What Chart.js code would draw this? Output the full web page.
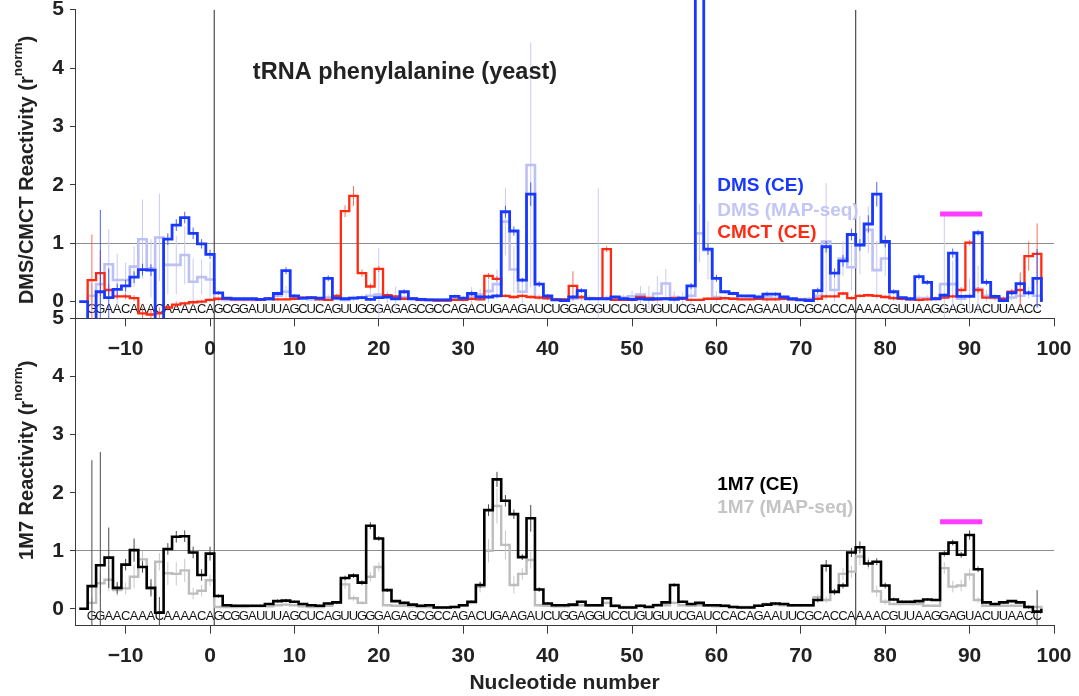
<!DOCTYPE html>
<html>
<head>
<meta charset="utf-8">
<script src="https://cdn.jsdelivr.net/npm/chart.js@4.4.1/dist/chart.umd.min.js"></script>
<style>
  html, body { margin: 0; padding: 0; background: #ffffff; }
  #wrap { position: relative; width: 1079px; height: 696px; overflow: hidden; background: #ffffff; }
  .box { position: absolute; left: 0; }
</style>
</head>
<body>
<div id="wrap">
  <div class="box" style="top:300px"><canvas id="bottomChart" width="1079" height="396"></canvas></div>
  <div class="box" style="top:0px"><canvas id="topChart" width="1079" height="370"></canvas></div>
</div>
<script>
// ---------------- DATA ----------------
// Nucleotide numbers run from -15 to 98 (index 0 -> nucleotide -15)
const nucleotideStart = -15;

// Sequence labels (first letter is nucleotide -14)
const seqStart = -14;
const flank5 = "GGAACAAACAAAACA";
const trnaPhe = "GCGGAUUUAGCUCAGUUGGGAGAGCGCCAGACUGAAGAUCUGGAGGUCCUGUGUUCGAUCCACAGAAUUCGCACCA";
const flank3 = "AAACGUUAAGGAGUACUUAACC";

// Domain boundaries (vertical lines) and highlighted segment
const boundaryLines = [0.5, 76.5];
const highlightRange = [86.5, 91.5];
const highlightLevel = 1.5;

// Tick labels
const xTicks = [-10, 0, 10, 20, 30, 40, 50, 60, 70, 80, 90, 100];
const yTicks = [0, 1, 2, 3, 4, 5];

// Series labels
const labelDmsCE = "DMS (CE)";
const labelDmsMap = "DMS (MAP-seq)";
const labelCmct = "CMCT (CE)";
const label1m7CE = "1M7 (CE)";
const label1m7Map = "1M7 (MAP-seq)";
const chartTitle = "tRNA phenylalanine (yeast)";
const xTitle = "Nucleotide number";
const yTitleTop = "DMS/CMCT Reactivity (r";
const yTitleBottom = "1M7 Reactivity (r";

// DMS (CE) reactivity, nucleotides -15..98
const dmsCE = [
  0, -0.6, 0.17, 0.07, 0.21, 0.27, 0.42, 0.55, 0.54, -0.6,      // -15..-6
  1.07, 1.31, 1.44, 1.17, 0.99, 0.81, 0.15, 0.06, 0.05, 0.05,   // -5..4
  0.05, 0.04, 0.05, 0.14, 0.53, 0.10, 0.06, 0.07, 0.06, 0.40,   // 5..14
  0.06, 0.05, 0.06, 0.07, 0.04, 0.07, 0.08, 0.05, 0.17, 0.05,   // 15..24
  0.04, 0.03, 0.03, 0.03, 0.09, 0.06, 0.14, 0.08, 0.08, 0.10,   // 25..34
  1.54, 1.21, 0.37, 1.84, 0.30, 0.10, 0.03, 0.02, 0.08, 0.19,   // 35..44
  0.05, 0.05, 0.05, 0.08, 0.05, 0.04, 0.05, 0.04, 0.05, 0.05,   // 45..54
  0.04, 0.06, 0.27, 6.5, 0.90, 0.40, 0.17, 0.14, 0.10, 0.10,    // 55..64
  0.08, 0.13, 0.13, 0.08, 0.05, 0.03, 0.02, 0.19, 0.94, 0.49,   // 65..74
  0.70, 1.15, 0.97, 1.33, 1.84, 1.03, 0.17, 0.07, 0.05, 0.43,   // 75..84
  0.33, 0.05, 0.11, 0.83, 0.09, 0.09, 1.18, 0.33, 0.09, 0.02,   // 85..94
  0.15, 0.31, 0.15, 0.40                                        // 95..98
];
const dmsCEErr = [
  0, 0.3, 1.4, 0.5, 0.1, 0.1, 0.1, 0.1, 0.1, 0,
  0.1, 0.1, 0.1, 0.1, 0.08, 0.08, 0.03, 0.02, 0.02, 0.02,
  0.02, 0.02, 0.02, 0.03, 0.06, 0.03, 0.02, 0.02, 0.02, 0.05,
  0.02, 0.02, 0.02, 0.02, 0.02, 0.02, 0.02, 0.02, 0.04, 0.02,
  0.02, 0.02, 0.02, 0.02, 0.03, 0.02, 0.04, 0.03, 0.03, 0.03,
  0.10, 0.08, 0.04, 0.20, 0.05, 0.03, 0.02, 0.02, 0.03, 0.04,
  0.02, 0.02, 0.02, 0.02, 0.02, 0.02, 0.02, 0.02, 0.02, 0.02,
  0.02, 0.02, 0.05, 0, 0.10, 0.06, 0.03, 0.03, 0.02, 0.02,
  0.02, 0.03, 0.03, 0.02, 0.02, 0.02, 0.02, 0.05, 0.10, 0.08,
  0.10, 0.10, 0.10, 0.15, 0.21, 0.10, 0.04, 0.02, 0.02, 0.05,
  0.04, 0.02, 0.03, 0.08, 0.03, 0.03, 0.05, 0.05, 0.03, 0.02,
  0.04, 0.05, 0.04, 0.50
];

// DMS (MAP-seq) reactivity
const dmsMap = [
  null, 0.10, 0.30, 0.64, 0.37, 0.37, 0.60, 1.07, 0.57, 1.10,
  0.63, 0.63, 0.80, 0.34, 0.42, 0.38, 0.04, 0.03, 0.03, 0.03,
  0.03, 0.04, 0.04, 0.10, 0.17, 0.06, 0.05, 0.04, 0.04, 0.07,
  0.05, 0.03, 0.06, 0.07, 0.10, 0.12, 0.08, 0.06, 0.07, 0.05,
  0.03, 0.03, 0.03, 0.03, 0.04, 0.05, 0.10, 0.12, 0.18, 0.30,
  1.37, 0.55, 0.17, 2.34, 0.08, 0.05, 0.04, 0.04, 0.05, 0.06,
  0.06, 0.05, 0.06, 0.05, 0.07, 0.09, 0.12, 0.07, 0.14, 0.31,
  0.08, 0.06, 0.10, 1.17, 0.88, 0.08, 0.05, 0.05, 0.05, 0.06,
  0.07, 0.08, 0.06, 0.05, 0.04, 0.04, 0.05, 0.10, 1.03, 0.20,
  0.74, 0.59, 0.97, 1.23, 0.54, 0.74, 0.06, 0.05, 0.04, 0.06,
  0.06, 0.05, 0.30, 0.30, 0.05, 0.10, 0.22, 0.10, 0.06, 0.05,
  0.07, 0.10, 0.15, 0.10
];
const dmsMapErr = [
  null, 0.2, 0.4, 0.6, 0.45, 0.3, 0.35, 0.68, 0.5, 0.75,
  0.5, 0.5, 0.5, 0.4, 0.3, 0.3, 0.05, 0.03, 0.03, 0.03,
  0.03, 0.03, 0.03, 0.05, 0.10, 0.05, 0.03, 0.03, 0.03, 0.05,
  0.03, 0.03, 0.05, 0.05, 0.10, 0.80, 0.10, 0.20, 0.05, 0.03,
  0.03, 0.03, 0.03, 0.03, 0.03, 0.05, 0.15, 0.10, 0.20, 0.25,
  0.58, 0.40, 0.20, 2.10, 0.05, 0.03, 0.03, 0.03, 0.03, 0.05,
  0.05, 1.90, 0.05, 0.05, 0.05, 0.10, 0.15, 0.20, 0.30, 0.25,
  0.10, 0.10, 0.20, 0.50, 0.50, 0.10, 0.05, 0.03, 0.03, 0.05,
  0.05, 0.10, 0.05, 0.05, 0.03, 0.03, 0.03, 0.10, 1.00, 0.20,
  0.30, 0.40, 0.50, 0.40, 0.50, 0.30, 0.05, 0.03, 0.03, 0.05,
  0.05, 0.05, 1.20, 0.40, 0.10, 0.30, 0.40, 0.10, 0.05, 0.05,
  0.05, 0.10, 0.10, 0.20
];

// CMCT (CE) reactivity
const cmctCE = [
  null, 0.37, 0.49, 0.20, 0.09, 0.09, 0.06, -0.20, -0.22, -0.20,
  -0.10, -0.05, -0.03, -0.01, 0.00, 0.03, 0.05, 0.05, 0.04, 0.04,
  0.04, 0.03, 0.05, 0.04, 0.04, 0.05, 0.07, 0.07, 0.04, 0.03,
  0.10, 1.55, 1.81, 0.49, 0.26, 0.56, 0.11, 0.09, 0.05, 0.05,
  0.03, 0.03, 0.02, 0.02, 0.03, 0.03, 0.05, 0.04, 0.44, 0.39,
  0.10, 0.08, 0.10, 0.08, 0.07, 0.06, 0.04, 0.04, 0.27, 0.08,
  0.05, 0.05, 0.90, 0.03, 0.03, 0.03, 0.08, 0.06, 0.04, 0.05,
  0.06, 0.05, 0.03, 0.03, 0.05, 0.05, 0.06, 0.05, 0.04, 0.04,
  0.05, 0.04, 0.04, 0.05, 0.04, 0.03, 0.03, 0.05, 0.09, 0.09,
  0.14, 0.06, 0.10, 0.11, 0.10, 0.08, 0.06, 0.05, 0.04, 0.03,
  0.04, 0.05, 0.07, 0.09, 0.20, 1.01, 0.20, 0.07, 0.07, 0.05,
  0.17, 0.20, 0.78, 0.82
];
const cmctErr = [
  null, 0.78, 0.39, 0.10, 0.05, 0.05, 0.05, 0.10, 0.10, 0.10,
  0.05, 0.05, 0.03, 0.03, 0.03, 0.03, 0.02, 0.02, 0.02, 0.02,
  0.02, 0.02, 0.02, 0.02, 0.02, 0.02, 0.02, 0.02, 0.02, 0.02,
  0.03, 0.10, 0.17, 0.06, 0.05, 0.05, 0.03, 0.02, 0.02, 0.02,
  0.02, 0.02, 0.02, 0.02, 0.02, 0.02, 0.02, 0.02, 0.05, 0.05,
  0.03, 0.03, 0.03, 0.03, 0.03, 0.03, 0.02, 0.02, 0.25, 0.03,
  0.02, 0.02, 0.05, 0.02, 0.02, 0.02, 0.02, 0.02, 0.02, 0.02,
  0.02, 0.02, 0.02, 0.02, 0.02, 0.02, 0.02, 0.02, 0.02, 0.02,
  0.02, 0.02, 0.02, 0.02, 0.02, 0.02, 0.02, 0.02, 0.03, 0.03,
  0.03, 0.03, 0.03, 0.03, 0.03, 0.03, 0.03, 0.03, 0.03, 0.03,
  0.02, 0.02, 0.02, 0.03, 0.05, 0.05, 0.05, 0.02, 0.02, 0.02,
  0.05, 0.30, 0.25, 0.52
];

// 1M7 (CE) reactivity
const m7CE = [
  0, 0.39, 0.75, 0.88, 0.36, 0.76, 1.01, 0.72, 0.36, -0.07,
  1.03, 1.24, 1.25, 0.97, 0.58, 0.95, 0.22, 0.06, 0.05, 0.05,
  0.05, 0.05, 0.08, 0.13, 0.14, 0.12, 0.08, 0.06, 0.05, 0.09,
  0.11, 0.53, 0.57, 0.45, 1.43, 1.21, 0.32, 0.13, 0.10, 0.07,
  0.05, 0.06, 0.02, 0.02, 0.03, 0.06, 0.12, 0.41, 1.70, 2.23,
  1.86, 1.63, 0.89, 1.56, 0.33, 0.09, 0.06, 0.06, 0.07, 0.12,
  0.06, 0.06, 0.18, 0.05, 0.02, 0.02, 0.05, 0.03, 0.06, 0.11,
  0.41, 0.12, 0.08, 0.10, 0.06, 0.06, 0.05, 0.03, 0.02, 0.02,
  0.05, 0.07, 0.09, 0.08, 0.06, 0.06, 0.06, 0.15, 0.74, 0.29,
  0.40, 0.97, 1.06, 0.78, 0.81, 0.40, 0.16, 0.12, 0.12, 0.13,
  0.16, 0.15, 0.95, 1.14, 0.93, 1.27, 0.68, 0.11, 0.08, 0.11,
  0.13, 0.11, 0.03, -0.05
];
const m7CEErr = [
  0, 2.17, 1.95, 0.52, 0.10, 0.10, 0.20, 0.10, 0.15, 0.27,
  0.10, 0.10, 0.10, 0.10, 0.10, 0.12, 0.03, 0.02, 0.02, 0.02,
  0.02, 0.02, 0.02, 0.03, 0.03, 0.02, 0.02, 0.02, 0.02, 0.02,
  0.02, 0.04, 0.04, 0.04, 0.06, 0.04, 0.03, 0.02, 0.02, 0.02,
  0.02, 0.02, 0.02, 0.02, 0.02, 0.02, 0.02, 0.05, 0.10, 0.13,
  0.10, 0.08, 0.05, 0.23, 0.04, 0.02, 0.02, 0.02, 0.02, 0.02,
  0.02, 0.02, 0.02, 0.02, 0.02, 0.02, 0.02, 0.02, 0.02, 0.02,
  0.03, 0.02, 0.02, 0.02, 0.02, 0.02, 0.02, 0.02, 0.02, 0.02,
  0.02, 0.02, 0.02, 0.02, 0.02, 0.02, 0.02, 0.04, 0.10, 0.05,
  0.05, 0.08, 0.10, 0.06, 0.06, 0.05, 0.03, 0.02, 0.02, 0.02,
  0.02, 0.02, 0.05, 0.05, 0.05, 0.08, 0.05, 0.02, 0.02, 0.02,
  0.02, 0.02, 0.03, 0.37
];

// 1M7 (MAP-seq) reactivity
const m7Map = [
  null, 0.10, 0.44, 0.50, 0.32, 0.35, 0.55, 0.85, 0.35, 0.81,
  0.61, 0.60, 0.66, 0.26, 0.31, 0.49, 0.03, 0.03, 0.03, 0.03,
  0.04, 0.04, 0.04, 0.06, 0.07, 0.06, 0.04, 0.03, 0.03, 0.05,
  0.10, 0.42, 0.18, 0.10, 0.55, 0.72, 0.06, 0.05, 0.05, 0.04,
  0.03, 0.03, 0.02, 0.02, 0.03, 0.05, 0.10, 0.38, 1.00, 1.77,
  1.10, 0.41, 0.60, 0.84, 0.06, 0.05, 0.04, 0.04, 0.05, 0.06,
  0.05, 0.05, 0.10, 0.04, 0.03, 0.03, 0.04, 0.04, 0.07, 0.06,
  0.10, 0.06, 0.05, 0.06, 0.05, 0.04, 0.04, 0.03, 0.03, 0.03,
  0.05, 0.08, 0.07, 0.06, 0.05, 0.05, 0.05, 0.20, 0.15, 0.30,
  0.60, 0.64, 0.90, 0.78, 0.30, 0.12, 0.08, 0.08, 0.08, 0.08,
  0.05, 0.05, 0.70, 0.38, 0.40, 0.59, 0.15, 0.05, 0.05, 0.05,
  0.05, 0.05, 0.03, 0.03
];
const m7MapErr = [
  null, 0.10, 0.20, 0.20, 0.10, 0.10, 0.20, 0.15, 0.10, 0.15,
  0.20, 0.20, 0.20, 0.10, 0.10, 0.10, 0.02, 0.02, 0.02, 0.02,
  0.02, 0.02, 0.02, 0.02, 0.02, 0.02, 0.02, 0.02, 0.02, 0.02,
  0.03, 0.08, 0.05, 0.03, 0.08, 0.08, 0.02, 0.02, 0.02, 0.02,
  0.02, 0.02, 0.02, 0.02, 0.02, 0.02, 0.03, 0.10, 0.20, 0.30,
  0.25, 0.15, 0.10, 0.15, 0.02, 0.02, 0.02, 0.02, 0.02, 0.02,
  0.02, 0.02, 0.03, 0.02, 0.02, 0.02, 0.02, 0.02, 0.02, 0.02,
  0.03, 0.02, 0.02, 0.02, 0.02, 0.02, 0.02, 0.02, 0.02, 0.02,
  0.02, 0.02, 0.02, 0.02, 0.02, 0.02, 0.02, 0.05, 0.05, 0.05,
  0.10, 0.10, 0.15, 0.10, 0.10, 0.05, 0.02, 0.02, 0.02, 0.02,
  0.02, 0.02, 0.10, 0.10, 0.10, 0.10, 0.05, 0.02, 0.02, 0.02,
  0.02, 0.02, 0.02, 0.02
];

// ---------------- HELPERS ----------------
const FONT = '"Liberation Sans", Arial, Helvetica, sans-serif';
const fullSeq = flank5 + trnaPhe + flank3;

function stairs(vals) {
  const pts = [];
  let started = false, lastN = null;
  vals.forEach((v, i) => {
    if (v === null) return;
    const n = nucleotideStart + i;
    if (!started) { pts.push({x: n - 0.5, y: 0}); started = true; }
    pts.push({x: n - 0.5, y: v}, {x: n + 0.5, y: v});
    lastN = n;
  });
  pts.push({x: lastN + 0.5, y: 0});
  return pts;
}
function errorBars(vals, errs) {
  const pts = [];
  vals.forEach((v, i) => {
    const e = errs[i];
    if (v === null || e === null || !e) return;
    const n = nucleotideStart + i;
    pts.push({x: n, y: v - e}, {x: n, y: v + e}, {x: n, y: null});
  });
  return pts;
}
function verticals(xs, lo, hi) {
  const pts = [];
  xs.forEach(b => pts.push({x: b, y: lo}, {x: b, y: hi}, {x: b, y: null}));
  return pts;
}
function ds(label, data, color, width, order, extra) {
  return Object.assign({
    label, data, borderColor: color, backgroundColor: color, borderWidth: width,
    pointRadius: 0, pointHoverRadius: 0, fill: false, spanGaps: false, tension: 0,
    borderCapStyle: 'butt', borderJoinStyle: 'miter', order
  }, extra || {});
}
function fmtTick(v) {
  if (!xTicks.includes(v) && !yTicks.includes(v)) return '';
  return v < 0 ? '\u2212' + Math.abs(v) : String(v);
}

const annot = {
  id: 'annot',
  beforeDatasetsDraw(chart, args, o) {
    const {ctx, scales: {x, y}} = chart;
    ctx.save();
    ctx.font = o.seqFont;
    ctx.fillStyle = '#151515';
    ctx.textAlign = 'center';
    ctx.textBaseline = 'middle';
    const yy = y.getPixelForValue(o.seqLevel);
    for (let i = 0; i < fullSeq.length; i++) {
      ctx.fillText(fullSeq[i], x.getPixelForValue(seqStart + i), yy);
    }
    ctx.restore();
  },
  afterDatasetsDraw(chart, args, o) {
    const {ctx, scales: {x, y}, chartArea} = chart;
    ctx.save();
    ctx.textBaseline = 'middle';
    ctx.textAlign = 'left';
    ctx.font = 'bold 19px ' + FONT;
    o.legend.forEach(e => {
      ctx.fillStyle = e.color;
      ctx.fillText(e.text, x.getPixelForValue(o.legendX), y.getPixelForValue(e.at));
    });
    if (o.title) {
      ctx.font = 'bold 23.5px ' + FONT;
      ctx.fillStyle = '#222';
      ctx.textAlign = 'center';
      ctx.fillText(o.title.text, x.getPixelForValue(o.title.x), y.getPixelForValue(o.title.y));
    }
    // rotated y-axis title with superscript
    const cy = (chartArea.top + chartArea.bottom) / 2 + o.yTitleShift;
    ctx.translate(o.yTitleX, cy);
    ctx.rotate(-Math.PI / 2);
    ctx.textAlign = 'left';
    ctx.textBaseline = 'alphabetic';
    ctx.fillStyle = '#222';
    const big = 'bold 20px ' + FONT, small = 'bold 13.5px ' + FONT;
    ctx.font = big; const w1 = ctx.measureText(o.yTitle).width; const w3 = ctx.measureText(')').width;
    ctx.font = small; const w2 = ctx.measureText('norm').width;
    let sx = -(w1 + w2 + w3) / 2;
    ctx.font = big; ctx.fillText(o.yTitle, sx, 7); sx += w1;
    ctx.font = small; ctx.fillText('norm', sx, -4); sx += w2;
    ctx.font = big; ctx.fillText(')', sx, 7);
    ctx.restore();
  }
};

function scaleOpts(yMin, xHeight, showTitle) {
  const tickFont = {family: FONT, size: 21, weight: 'bold'};
  return {
    x: {
      type: 'linear', min: -16, max: 100,
      afterFit(s) { s.height = xHeight; s.paddingLeft = 0; s.paddingRight = 0; },
      ticks: {stepSize: 10, includeBounds: false, autoSkip: false, maxRotation: 0, minRotation: 0,
              padding: 10, color: '#222', font: tickFont, callback: v => fmtTick(v)},
      grid: {drawOnChartArea: false, drawTicks: true, tickLength: 8, tickColor: '#3a3a3a', tickWidth: 1},
      border: {display: true, color: '#3a3a3a', width: 1},
      title: showTitle ? {display: true, text: xTitle, color: '#222', font: {family: FONT, size: 21, weight: 'bold'}, padding: {top: 0, bottom: 0}} : {display: false}
    },
    y: {
      type: 'linear', min: yMin, max: 5,
      afterFit(s) { s.width = 75; s.paddingTop = 0; s.paddingBottom = 0; },
      ticks: {stepSize: 1, includeBounds: false, padding: 6, color: '#222', font: tickFont, callback: v => fmtTick(v)},
      grid: {drawOnChartArea: true, color: c => (c.tick && c.tick.value === 1) ? '#8e8e8e' : 'rgba(0,0,0,0)',
             lineWidth: 1, drawTicks: true, tickLength: 5, tickColor: '#3a3a3a', tickWidth: 1},
      border: {display: true, color: '#3a3a3a', width: 1}
    }
  };
}

const commonOpts = {
  responsive: false, animation: false, events: [],
  plugins: {legend: {display: false}, tooltip: {enabled: false}},
};

// ---------------- TOP CHART ----------------
const C_BLUE = '#1838ff', C_LIGHT = '#bcc0f4', C_RED = '#ff2a12', C_MAG = '#ff3cff';
const yMinTop = -0.285;
new Chart(document.getElementById('topChart'), {
  type: 'line',
  data: {
    datasets: [
      ds('boundaries', verticals(boundaryLines, yMinTop, 5), '#4a4a4a', 1.2, 20),
      ds(labelDmsMap + ' err', errorBars(dmsMap, dmsMapErr), '#c8cbf6', 1, 19),
      ds(labelDmsMap, stairs(dmsMap), C_LIGHT, 2.6, 18),
      ds(labelCmct + ' err', errorBars(cmctCE, cmctErr), 'rgba(255,60,40,0.75)', 1, 17),
      ds(labelCmct, stairs(cmctCE), C_RED, 2.3, 16),
      ds(labelDmsCE + ' err', errorBars(dmsCE, dmsCEErr), 'rgba(30,60,255,0.8)', 1, 15),
      ds(labelDmsCE, stairs(dmsCE), C_BLUE, 2.8, 14, {clip: {left: 0, top: 10, right: 0, bottom: 0}}),
      ds('highlight', [{x: highlightRange[0], y: highlightLevel}, {x: highlightRange[1], y: highlightLevel}], C_MAG, 5, 1)
    ]
  },
  options: Object.assign({}, commonOpts, {
    layout: {padding: {left: 0, right: 25, top: 9.7, bottom: 0}},
    plugins: Object.assign({}, commonOpts.plugins, {
      annot: {
        seqFont: '13px ' + FONT, seqLevel: -0.13,
        legendX: 60.1,
        legend: [
          {text: labelDmsCE, color: C_BLUE, at: 1.98},
          {text: labelDmsMap, color: '#c3c6f5', at: 1.56},
          {text: labelCmct, color: C_RED, at: 1.18}
        ],
        title: {text: chartTitle, x: 23.1, y: 3.93},
        yTitle: yTitleTop, yTitleX: 26, yTitleShift: 6
      }
    }),
    scales: scaleOpts(yMinTop, 51.7, false)
  }),
  plugins: [annot]
});

// ---------------- BOTTOM CHART ----------------
const C_BLACK = '#000000', C_GREY = '#bdbdbd';
const yMinBottom = -0.293;
new Chart(document.getElementById('bottomChart'), {
  type: 'line',
  data: {
    datasets: [
      ds('boundaries', verticals(boundaryLines, yMinBottom, 5), '#4a4a4a', 1.2, 20),
      ds(label1m7Map + ' err', errorBars(m7Map, m7MapErr), '#c9c9c9', 1, 19),
      ds(label1m7Map, stairs(m7Map), C_GREY, 2.4, 18),
      ds(label1m7CE + ' err', errorBars(m7CE, m7CEErr), '#4a4a4a', 1, 17),
      ds(label1m7CE, stairs(m7CE), C_BLACK, 2.6, 16),
      ds('highlight', [{x: highlightRange[0], y: highlightLevel}, {x: highlightRange[1], y: highlightLevel}], C_MAG, 5, 1)
    ]
  },
  options: Object.assign({}, commonOpts, {
    layout: {padding: {left: 0, right: 25, top: 18.7, bottom: 0}},
    plugins: Object.assign({}, commonOpts.plugins, {
      annot: {
        seqFont: '13px ' + FONT, seqLevel: -0.14,
        legendX: 60.1,
        legend: [
          {text: label1m7CE, color: C_BLACK, at: 2.13},
          {text: label1m7Map, color: '#c4c4c4', at: 1.74}
        ],
        title: null,
        yTitle: yTitleBottom, yTitleX: 26, yTitleShift: -12
      }
    }),
    scales: scaleOpts(yMinBottom, 70.3, true)
  }),
  plugins: [annot]
});
</script>
</body>
</html>
